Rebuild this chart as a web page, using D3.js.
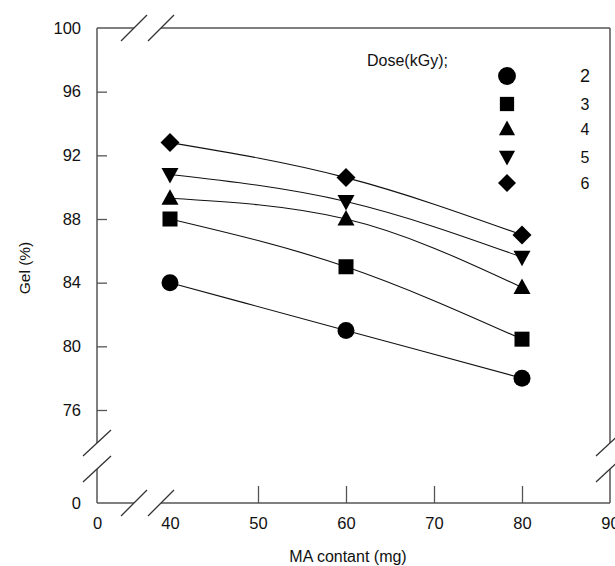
<!DOCTYPE html>
<html>
<head>
<meta charset="utf-8">
<script src="https://cdn.jsdelivr.net/npm/d3@7"></script>
<style>
  body { margin: 0; background: #fff; }
  text { font-family: "Liberation Sans", Arial, sans-serif; fill: #111; }
</style>
</head>
<body>
<div id="chartArea"></div>
<script>
// data
var maContent = [40, 60, 80];
var doses = ["2", "3", "4", "5", "6"];
var gel2 = [84.0, 81.0, 78.0];
var gel3 = [88.0, 85.0, 80.45];
var gel4 = [89.3, 88.0, 83.7];
var gel5 = [90.8, 89.1, 85.6];
var gel6 = [92.8, 90.6, 87.0];
var xTicks = [0, 40, 50, 60, 70, 80, 90];
var yTicks = [0, 76, 80, 84, 88, 92, 96, 100];

var series = [gel2, gel3, gel4, gel5, gel6];
var shapes = ["circle", "square", "triUp", "triDown", "diamond"];

var W = 615, H = 566;
// plot frame (note: "top" is taken by window.top)
var pLeft = 97, pRight = 610, pTop = 28, pBottom = 503;

// broken axes -> piecewise scales
var x = d3.scaleLinear().domain([0, 40, 90]).range([pLeft, 170, pRight]);
var y = d3.scaleLinear().domain([0, 76, 100]).range([pBottom, 410, pTop]);

var svg = d3.select("#chartArea").append("svg")
    .attr("width", W)
    .attr("height", H);

// symbols
function marker(g, shape, s) {
    if (shape == "circle") {
        g.append("circle").attr("r", 8.5 * s);
    } else if (shape == "square") {
        g.append("rect").attr("x", -7.5 * s).attr("y", -7.5 * s)
            .attr("width", 15 * s).attr("height", 15 * s);
    } else if (shape == "triUp") {
        g.append("path").attr("d", "M0," + (-9 * s) + "L" + (8.5 * s) + "," + (6.5 * s) + "L" + (-8.5 * s) + "," + (6.5 * s) + "Z");
    } else if (shape == "triDown") {
        g.append("path").attr("d", "M0," + (9 * s) + "L" + (8.5 * s) + "," + (-6.5 * s) + "L" + (-8.5 * s) + "," + (-6.5 * s) + "Z");
    } else {
        g.append("path").attr("d", "M0," + (-9.5 * s) + "L" + (9.5 * s) + ",0L0," + (9.5 * s) + "L" + (-9.5 * s) + ",0Z");
    }
    g.selectAll("*").attr("fill", "#000");
}

// axes (ticks inward, no domain)
var xAxis = d3.axisBottom(x).tickValues(xTicks).tickSize(-17).tickPadding(14);
var yAxis = d3.axisLeft(y).tickValues(yTicks).tickSize(-10).tickPadding(16);

var gx = svg.append("g").attr("transform", "translate(0," + pBottom + ")").call(xAxis);
var gy = svg.append("g").attr("transform", "translate(" + pLeft + ",0)").call(yAxis);
[gx, gy].forEach(function (g) {
    g.select(".domain").remove();
    g.selectAll(".tick line").attr("stroke", "#555").attr("stroke-width", 1.3);
    g.selectAll(".tick text").style("font-size", "16.5px").attr("fill", "#111");
});
// no tick marks at the corners / break
gx.selectAll(".tick").filter(function (d) { return d == 0 || d == 40 || d == 90; }).select("line").remove();
gy.selectAll(".tick").filter(function (d) { return d == 0 || d == 100; }).select("line").remove();

// frame with gaps for the breaks
var frame = svg.append("g").attr("stroke", "#555").attr("stroke-width", 1.5).attr("fill", "none");
var gapX = [134, 161], gapY = [443, 469];
frame.append("line").attr("x1", pLeft).attr("x2", gapX[0]).attr("y1", pBottom).attr("y2", pBottom);
frame.append("line").attr("x1", gapX[1]).attr("x2", pRight).attr("y1", pBottom).attr("y2", pBottom);
frame.append("line").attr("x1", pLeft).attr("x2", gapX[0]).attr("y1", pTop).attr("y2", pTop);
frame.append("line").attr("x1", gapX[1]).attr("x2", pRight).attr("y1", pTop).attr("y2", pTop);
frame.append("line").attr("x1", pLeft).attr("x2", pLeft).attr("y1", pTop).attr("y2", gapY[0]);
frame.append("line").attr("x1", pLeft).attr("x2", pLeft).attr("y1", gapY[1]).attr("y2", pBottom);
frame.append("line").attr("x1", pRight).attr("x2", pRight).attr("y1", pTop).attr("y2", gapY[0]);
frame.append("line").attr("x1", pRight).attr("x2", pRight).attr("y1", gapY[1]).attr("y2", pBottom);

// break slashes
var slash = svg.append("g").attr("stroke", "#333").attr("stroke-width", 1.3);
gapX.forEach(function (cx) {
    [pTop, pBottom].forEach(function (cy) {
        slash.append("line").attr("x1", cx - 13).attr("y1", cy + 13).attr("x2", cx + 13).attr("y2", cy - 13);
    });
});
gapY.forEach(function (cy) {
    [pLeft, pRight].forEach(function (cx) {
        slash.append("line").attr("x1", cx - 14).attr("y1", cy + 13).attr("x2", cx + 14).attr("y2", cy - 13);
    });
});

// fitted curves
var line = d3.line()
    .x(function (d, i) { return x(maContent[i]); })
    .y(function (d) { return y(d); })
    .curve(d3.curveMonotoneX);

svg.append("g").selectAll("path")
    .data(series)
    .enter().append("path")
    .attr("d", line)
    .attr("fill", "none")
    .attr("stroke", "#111")
    .attr("stroke-width", 1.1);

// points
series.forEach(function (vals, k) {
    vals.forEach(function (v, i) {
        var g = svg.append("g").attr("transform", "translate(" + x(maContent[i]) + "," + y(v) + ")");
        marker(g, shapes[k], 1);
    });
});

// legend
svg.append("text").attr("x", 367).attr("y", 66).style("font-size", "16px").text("Dose(kGy);");
var legY = [76, 104, 129, 157, 183];
doses.forEach(function (d, k) {
    var g = svg.append("g").attr("transform", "translate(507," + legY[k] + ")");
    marker(g, shapes[k], k == 0 ? 1.05 : 0.95);
    svg.append("text").attr("x", 585).attr("y", legY[k] + 6)
        .attr("text-anchor", "middle")
        .style("font-size", k == 0 ? "18px" : "16px")
        .text(d);
});

// axis titles
svg.append("text").attr("x", 348).attr("y", 562).attr("text-anchor", "middle")
    .style("font-size", "16px").text("MA contant (mg)");
svg.append("text").attr("transform", "translate(30,268) rotate(-90)")
    .attr("text-anchor", "middle").style("font-size", "15.5px").text("Gel (%)");
</script>
</body>
</html>
